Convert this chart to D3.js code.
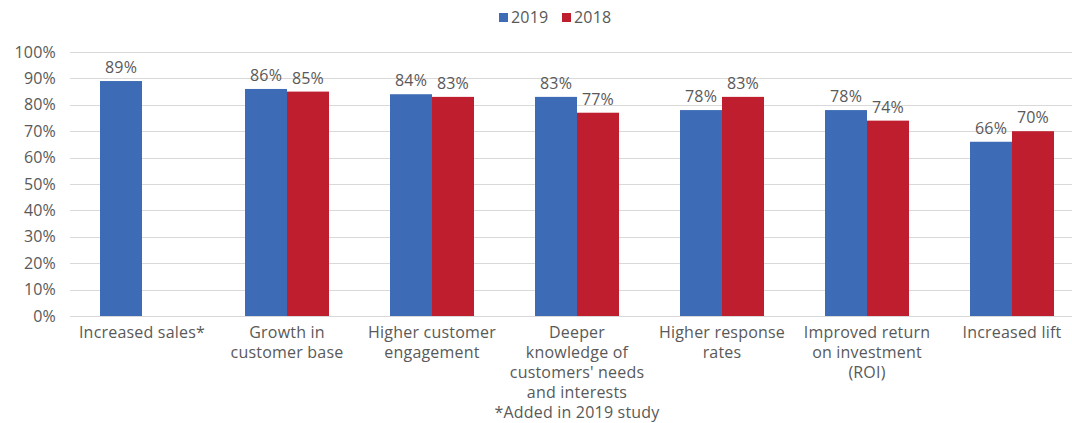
<!DOCTYPE html>
<html>
<head>
<meta charset="utf-8">
<script src="https://cdn.jsdelivr.net/npm/d3@7"></script>
<style>
  html, body { margin: 0; padding: 0; background: #fff; }
  svg { display: block; }
  text { font-family: "Open Sans", Lato, sans-serif; fill: #595959; letter-spacing: 0.2px; }
</style>
</head>
<body>
<svg id="chart" width="1072" height="423"></svg>
<script>
const categories = [
  ["Increased sales*"],
  ["Growth in", "customer base"],
  ["Higher customer", "engagement"],
  ["Deeper", "knowledge of", "customers' needs", "and interests"],
  ["Higher response", "rates"],
  ["Improved return", "on investment", "(ROI)"],
  ["Increased lift"]
];
const seriesNames = ["2019", "2018"];
const values2019 = [89, 86, 84, 83, 78, 78, 66];
const values2018 = [null, 85, 83, 77, 83, 74, 70];
const yTicks = [0, 10, 20, 30, 40, 50, 60, 70, 80, 90, 100];
const footnote = "*Added in 2019 study";
const colors = ["#3D6BB5", "#BE1E2D"];

const FONT = "'Open Sans', Lato, sans-serif";
const FS = 16;

const svg = d3.select("#chart");
const margin = { left: 69.5, right: 1084.5, top: 52, bottom: 316 };

const x = d3.scaleBand()
  .domain(d3.range(categories.length))
  .range([margin.left, margin.right])
  .paddingInner(0.4207)
  .paddingOuter(0.4207 / 2);
const xs = d3.scaleBand().domain([0, 1]).range([0, x.bandwidth()]);
const y = d3.scaleLinear().domain([0, 100]).range([margin.bottom, margin.top]);

// gridlines
svg.append("g").selectAll("line").data(yTicks).join("line")
  .attr("x1", 70).attr("x2", 1072)
  .attr("y1", d => Math.round(y(d)) + 0.5).attr("y2", d => Math.round(y(d)) + 0.5)
  .attr("stroke", "#d9d9d9").attr("stroke-width", 1);

// y axis labels
const yAxis = d3.axisLeft(y).tickValues(yTicks).tickFormat(d => d + "%").tickSize(0).tickPadding(0);
const ya = svg.append("g").attr("transform", "translate(56,0)").call(yAxis);
ya.select(".domain").remove();
ya.selectAll("text").attr("font-size", FS).attr("fill", "#595959")
  .style("font-family", FONT);

// bars
const series = [values2019, values2018];
series.forEach((vals, si) => {
  const g = svg.append("g");
  const data = vals.map((v, i) => ({ v, i })).filter(d => d.v !== null);
  g.selectAll("rect").data(data).join("rect")
    .attr("x", d => x(d.i) + xs(si))
    .attr("width", xs.bandwidth())
    .attr("y", d => y(d.v))
    .attr("height", d => y(0) - y(d.v))
    .attr("fill", colors[si]);
  g.selectAll("text").data(data).join("text")
    .attr("x", d => x(d.i) + xs(si) + xs.bandwidth() / 2)
    .attr("y", d => y(d.v) - 8)
    .attr("text-anchor", "middle")
    .attr("font-size", FS)
    .text(d => d.v + "%");
});

// category labels
const cl = svg.append("g");
categories.forEach((lines, i) => {
  const t = cl.append("text")
    .attr("x", x(i) + x.bandwidth() / 2)
    .attr("y", 338)
    .attr("text-anchor", "middle")
    .attr("font-size", FS);
  lines.forEach((ln, j) => {
    t.append("tspan").attr("x", x(i) + x.bandwidth() / 2).attr("y", 338 + j * 20).text(ln);
  });
});

// footnote
svg.append("text")
  .attr("x", x(3) + x.bandwidth() / 2)
  .attr("y", 418)
  .attr("text-anchor", "middle")
  .attr("font-size", FS)
  .text(footnote);

// legend
const legend = svg.append("g");
const legX = [499, 562];
seriesNames.forEach((n, i) => {
  legend.append("rect").attr("x", legX[i]).attr("y", 13).attr("width", 9).attr("height", 9).attr("fill", colors[i]);
  legend.append("text").attr("x", legX[i] + 12).attr("y", 23).attr("font-size", FS).text(n);
});
</script>
</body>
</html>
